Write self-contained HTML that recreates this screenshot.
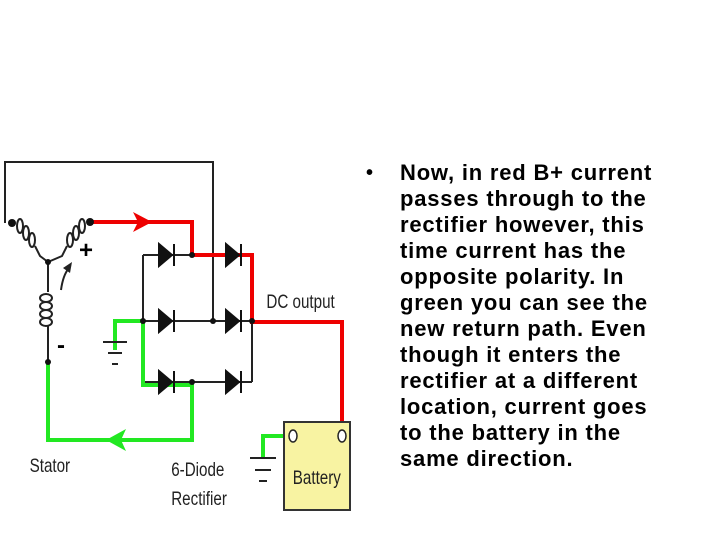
<!DOCTYPE html>
<html><head><style>
body{margin:0;width:720px;height:540px;background:#fff;overflow:hidden;position:relative;font-family:"Liberation Sans",Arial,sans-serif}
.t{position:absolute;left:400px;font-weight:bold;font-size:22px;color:#000;white-space:nowrap;line-height:26px;letter-spacing:0.8px}
</style></head><body>
<svg width="720" height="540" style="position:absolute;left:0;top:0">
<g fill="none" stroke="#222" stroke-width="2">
<polyline points="5,223 5,162 213,162 213,321"/>
<line x1="143" y1="255" x2="143" y2="321"/>
<line x1="252" y1="255" x2="252" y2="382"/>
<line x1="143" y1="255" x2="252" y2="255"/>
<line x1="143" y1="321" x2="252" y2="321"/>
<line x1="143" y1="382" x2="252" y2="382"/>
<ellipse cx="20" cy="226" rx="3" ry="7"/><ellipse cx="26" cy="233" rx="3" ry="7"/><ellipse cx="32" cy="240" rx="3" ry="7"/>
<path d="M35,246 l5,10 l8,6"/>
<ellipse cx="82" cy="226" rx="3" ry="7"/><ellipse cx="76" cy="233" rx="3" ry="7"/><ellipse cx="70" cy="240" rx="3" ry="7"/>
<path d="M67,246 l-5,10 l-14,6"/>
<path d="M48,262 l0,30"/>
<ellipse cx="46" cy="298" rx="6" ry="4"/><ellipse cx="46" cy="306" rx="6" ry="4"/><ellipse cx="46" cy="314" rx="6" ry="4"/><ellipse cx="46" cy="322" rx="6" ry="4"/>
<path d="M48,326 l0,36"/>
<path d="M61,290 q2,-15 8,-22"/>
</g>
<polygon points="63,268 72,262 70,273" fill="#222"/>
<polyline points="92,222 192,222 192,255 252,255 252,322 342,322 342,430" fill="none" stroke="#e00" stroke-width="4"/>
<polygon points="133,212 152,222 133,232 138,222" fill="#e00"/>
<polyline points="115,350 115,321 143,321 143,385 192,385 192,440 48,440 48,362" fill="none" stroke="#22e822" stroke-width="4"/>
<polygon points="126,429 106,440 126,451 121,440" fill="#22e822"/>
<polyline points="290,436 263,436 263,458" fill="none" stroke="#22e822" stroke-width="4"/>
<g fill="#111" stroke="#111" stroke-width="2">
<polygon points="159,244 159,266 172,255"/><line x1="174" y1="244" x2="174" y2="266"/>
<polygon points="226,244 226,266 239,255"/><line x1="241" y1="244" x2="241" y2="266"/>
<polygon points="159,310 159,332 172,321"/><line x1="174" y1="310" x2="174" y2="332"/>
<polygon points="226,310 226,332 239,321"/><line x1="241" y1="310" x2="241" y2="332"/>
<polygon points="159,371 159,393 172,382"/><line x1="174" y1="371" x2="174" y2="393"/>
<polygon points="226,371 226,393 239,382"/><line x1="241" y1="371" x2="241" y2="393"/>
</g>
<g fill="#111">
<circle cx="12" cy="223" r="4"/><circle cx="90" cy="222" r="4"/><circle cx="48" cy="262" r="3"/><circle cx="48" cy="362" r="3"/>
<circle cx="192" cy="255" r="3"/><circle cx="143" cy="321" r="3"/><circle cx="213" cy="321" r="3"/><circle cx="252" cy="321" r="3"/><circle cx="192" cy="382" r="3"/>
</g>
<g stroke="#222" stroke-width="2"><line x1="103" y1="342" x2="127" y2="342"/><line x1="108" y1="353" x2="122" y2="353"/><line x1="112" y1="364" x2="118" y2="364"/>
<line x1="250" y1="458" x2="276" y2="458"/><line x1="255" y1="470" x2="271" y2="470"/><line x1="259" y1="481" x2="267" y2="481"/></g>
<text x="79" y="258" font-size="24" font-weight="bold" font-family="Liberation Sans">+</text>
<text x="57" y="353" font-size="24" font-weight="bold" font-family="Liberation Sans">-</text>
<rect x="284" y="422" width="66" height="88" fill="#f8f3a2" stroke="#333" stroke-width="2"/>
<ellipse cx="293" cy="436" rx="4" ry="6" fill="#fff" stroke="#222" stroke-width="1.5"/>
<ellipse cx="342" cy="436" rx="4" ry="6" fill="#fff" stroke="#222" stroke-width="1.5"/>
<g font-family="Liberation Sans" font-size="19" fill="#222" transform="scale(0.8,1)">
<text x="366" y="484">Battery</text>
<text x="333" y="308">DC output</text>
<text x="37" y="472">Stator</text>
<text x="214" y="476">6-Diode</text>
<text x="214" y="505">Rectifier</text>
</g>
</svg>
<div class="t" style="left:366px;top:160px;font-size:20px">•</div>
<div class="t" style="top:160px">Now, in red B+ current<br>passes through to the<br>rectifier however, this<br>time current has the<br>opposite polarity. In<br>green you can see the<br>new return path. Even<br>though it enters the<br>rectifier at a different<br>location, current goes<br>to the battery in the<br>same direction.</div>
</body></html>
